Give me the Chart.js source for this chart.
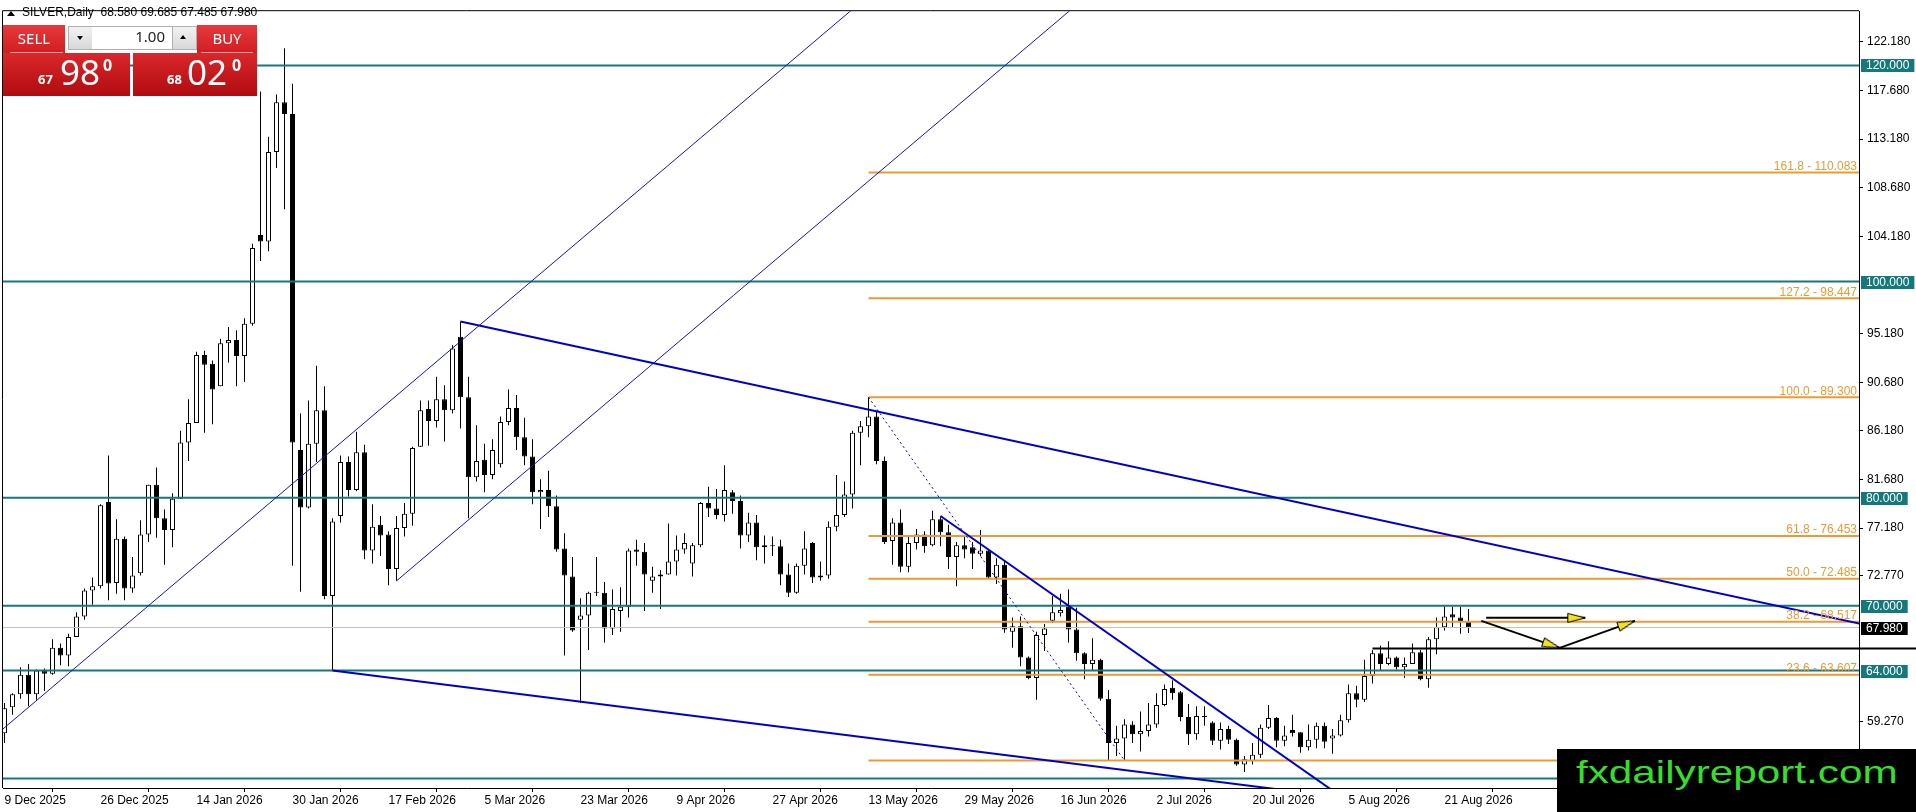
<!DOCTYPE html>
<html>
<head>
<meta charset="utf-8">
<title>SILVER, Daily</title>
<script src="https://cdn.jsdelivr.net/npm/chart.js@4.4.1/dist/chart.umd.min.js"></script>
<style>
html, body { margin:0; padding:0; background:#fff; overflow:hidden; }
#wrap { position:relative; width:1916px; height:812px; }
#chart { position:absolute; left:0; top:0; }
.abs { position:absolute; white-space:nowrap; }
#tri { left:7px; top:11px; width:0; height:0; border-left:4px solid transparent; border-right:4px solid transparent; border-bottom:5px solid #000; }
#title { left:22px; top:5px; font:12px "Liberation Sans", Arial, sans-serif; line-height:14px; color:#000; }
.red { background:linear-gradient(#e8393c, #d01d22); }
.big { background:linear-gradient(#da272b, #b00b10); }
.line { background:#f39b9b; height:1px; }
.wtxt { color:#fff; font-family:"Noto Sans", sans-serif; }
.spinbtn { background:linear-gradient(#f2f2f2, #d8d8d8); border:1px solid #b0b0b0; box-sizing:border-box; }
.tdn { width:0; height:0; border-left:3.5px solid transparent; border-right:3.5px solid transparent; border-top:4px solid #000; }
.tup { width:0; height:0; border-left:3.5px solid transparent; border-right:3.5px solid transparent; border-bottom:4px solid #000; }
#mark { left:1557px; top:749px; width:359px; height:63px; background:#000; overflow:hidden; }
#markTxt { left:19px; top:7px; font:32px "Liberation Sans", Arial, sans-serif; line-height:32px; color:#35df2b; transform:scaleX(1.32); transform-origin:0 0; }
</style>
</head>
<body>
<div id="wrap">
  <canvas id="chart" width="1916" height="812"></canvas>

  <div id="tri" class="abs"></div>
  <div id="title" class="abs">SILVER,Daily &nbsp;68.580 69.685 67.485 67.980</div>

  <div class="abs red" style="left:3px;top:25px;width:62px;height:28px;"></div>
  <div class="abs line" style="left:10px;top:52px;width:53px;"></div>
  <div class="abs wtxt" style="left:3px;top:31px;width:62px;text-align:center;font-size:15px;line-height:15px;">SELL</div>

  <div class="abs spinbtn" style="left:68px;top:26px;width:25px;height:24px;"></div>
  <div class="abs tdn" style="left:77px;top:36px;"></div>
  <div class="abs" style="left:92px;top:26px;width:80px;height:24px;background:#fff;border-top:1px solid #b0b0b0;border-bottom:1px solid #b0b0b0;box-sizing:border-box;"></div>
  <div class="abs" style="left:92px;top:29px;width:73px;text-align:right;font:15px 'Noto Sans', sans-serif;line-height:15px;color:#222;">1.00</div>
  <div class="abs spinbtn" style="left:172px;top:26px;width:25px;height:24px;"></div>
  <div class="abs tup" style="left:180px;top:35px;"></div>

  <div class="abs red" style="left:197px;top:25px;width:60px;height:28px;"></div>
  <div class="abs line" style="left:201px;top:52px;width:52px;"></div>
  <div class="abs wtxt" style="left:197px;top:31px;width:60px;text-align:center;font-size:15px;line-height:15px;">BUY</div>

  <div class="abs big" style="left:3px;top:53px;width:127px;height:43px;"></div>
  <div class="abs wtxt" style="left:38px;top:73px;font-size:13px;line-height:13px;font-weight:bold;">67</div>
  <div class="abs wtxt" style="left:60px;top:54px;font-size:35px;line-height:35px;">98</div>
  <div class="abs wtxt" style="left:103px;top:57px;font-size:16px;line-height:16px;font-weight:bold;">0</div>

  <div class="abs big" style="left:133px;top:53px;width:124px;height:43px;"></div>
  <div class="abs wtxt" style="left:167px;top:73px;font-size:13px;line-height:13px;font-weight:bold;">68</div>
  <div class="abs wtxt" style="left:187px;top:54px;font-size:35px;line-height:35px;">02</div>
  <div class="abs wtxt" style="left:232px;top:57px;font-size:16px;line-height:16px;font-weight:bold;">0</div>

  <div id="mark" class="abs"><div id="markTxt" class="abs">fxdailyreport.com</div></div>
</div>

<script>
// daily bars, 9 Dec 2025 .. 26 Aug 2026
const opens = [
  58.2, 60.6, 61.8, 63.6, 61.8, 64.0, 63.7, 66.1, 65.4, 67.1,
  69.0, 71.4, 71.8, 79.6, 72.1, 76.2, 71.6, 73.0, 76.6, 81.2,
  78.1, 77.0, 79.9, 85.1, 86.9, 93.2, 92.4, 90.3, 94.3, 94.6,
  93.1, 96.1, 104.3, 103.7, 112.0, 116.6, 115.5, 84.4, 79.1, 85.0,
  88.1, 70.9, 78.3, 83.3, 80.7, 84.2, 75.1, 77.5, 76.6, 73.4,
  77.2, 78.5, 84.7, 88.2, 87.1, 89.1, 88.1, 94.9, 89.3, 81.9,
  83.5, 82.1, 83.1, 87.0, 88.3, 85.6, 83.8, 80.5, 80.7, 79.2,
  75.3, 72.7, 68.7, 69.1, 71.2, 71.2, 67.9, 69.5, 69.9, 75.2,
  75.0, 72.3, 72.7, 72.9, 74.1, 75.2, 73.9, 75.6, 79.5, 79.0,
  78.4, 80.5, 79.7, 76.5, 77.7, 75.4, 75.6, 75.5, 72.9, 71.2,
  73.7, 75.8, 72.6, 72.8, 77.3, 78.4, 80.3, 86.0, 86.6, 87.5,
  83.4, 76.0, 77.7, 73.6, 75.8, 76.6, 75.6, 78.0, 76.8, 74.5,
  75.6, 75.4, 74.8, 75.1, 72.6, 73.8, 67.6, 68.1, 65.2, 63.3,
  67.3, 68.6, 69.3, 69.9, 67.8, 65.6, 64.6, 65.0, 61.4, 57.3,
  57.7, 59.0, 58.1, 58.4, 59.0, 60.8, 62.4, 62.0, 59.7, 58.1,
  59.8, 59.2, 57.5, 58.6, 57.6, 55.3, 55.6, 56.2, 58.7, 59.6,
  57.5, 58.5, 58.3, 56.9, 57.6, 58.9, 57.7, 58.0, 59.4, 61.9,
  61.3, 63.5, 65.6, 64.6, 65.2, 64.3, 64.6, 65.7, 63.2, 66.9,
  68.0, 69.2, 68.9, 68.58];

const highs = [
  61.0, 61.9, 64.3, 64.6, 64.1, 64.2, 66.9, 66.5, 67.4, 69.4,
  71.6, 72.6, 79.4, 83.9, 78.0, 76.4, 74.5, 77.9, 81.2, 82.8,
  78.9, 80.4, 86.2, 89.1, 93.5, 93.6, 92.7, 94.7, 95.8, 95.5,
  96.6, 103.5, 117.6, 113.4, 117.3, 121.6, 118.3, 87.8, 89.0, 92.2,
  90.3, 78.1, 83.9, 83.8, 86.1, 84.9, 79.4, 78.3, 76.9, 78.3,
  79.5, 84.7, 89.0, 89.0, 91.2, 90.4, 94.1, 96.3, 91.2, 86.7,
  85.0, 85.4, 87.5, 90.0, 89.5, 87.4, 85.4, 81.7, 82.5, 80.2,
  76.7, 74.5, 70.7, 71.3, 74.5, 72.2, 71.5, 71.7, 75.3, 76.1,
  75.8, 73.6, 73.3, 77.6, 76.5, 76.7, 75.8, 79.6, 81.0, 80.8,
  83.0, 80.7, 80.2, 78.6, 78.4, 76.5, 76.4, 76.1, 73.9, 73.9,
  76.9, 75.9, 74.1, 77.8, 82.1, 81.5, 86.2, 87.1, 89.3, 88.0,
  83.8, 78.1, 78.9, 76.4, 77.1, 76.9, 78.8, 78.3, 77.5, 75.9,
  76.4, 75.9, 77.0, 75.2, 74.4, 74.2, 68.9, 69.0, 65.3, 67.6,
  68.3, 70.9, 71.1, 71.5, 69.8, 65.7, 67.0, 65.1, 62.2, 58.9,
  59.5, 59.3, 60.2, 61.0, 61.9, 62.7, 63.1, 62.1, 60.9, 60.7,
  60.7, 59.3, 59.2, 58.9, 57.7, 56.1, 57.3, 59.0, 60.8, 59.7,
  58.9, 59.9, 58.3, 59.0, 59.2, 59.2, 58.6, 59.9, 62.7, 62.6,
  65.0, 65.9, 66.3, 66.7, 65.3, 65.2, 66.5, 65.9, 67.1, 68.9,
  69.95, 69.9, 69.9, 69.685];

const lows = [
  57.3, 59.9, 61.4, 60.7, 61.3, 62.1, 63.6, 64.5, 64.4, 67.1,
  68.7, 70.1, 71.6, 70.5, 71.1, 70.5, 71.2, 72.8, 75.9, 76.3,
  73.8, 75.4, 79.9, 83.4, 86.9, 86.0, 86.8, 90.3, 92.5, 90.3,
  90.7, 95.9, 101.9, 102.8, 110.5, 106.7, 73.7, 71.3, 79.0, 83.3,
  70.6, 64.0, 77.7, 80.1, 80.6, 74.3, 73.9, 74.6, 71.9, 72.3,
  76.4, 77.4, 84.7, 84.8, 86.5, 85.2, 87.8, 86.4, 78.1, 81.5,
  80.5, 81.7, 82.8, 86.7, 84.4, 83.0, 79.4, 77.1, 78.2, 75.0,
  65.4, 67.6, 61.0, 65.9, 70.9, 66.6, 67.3, 67.6, 68.9, 73.7,
  69.5, 71.2, 69.7, 72.9, 72.8, 74.8, 72.7, 75.4, 78.2, 78.0,
  77.8, 78.5, 75.3, 75.9, 74.2, 73.9, 74.6, 71.9, 70.8, 71.1,
  72.9, 72.1, 72.3, 72.5, 76.9, 78.2, 79.0, 83.0, 85.6, 83.1,
  75.7, 73.8, 73.1, 73.1, 75.2, 74.9, 75.5, 75.5, 73.4, 71.8,
  74.4, 73.4, 74.6, 72.5, 72.0, 67.5, 66.1, 64.4, 63.2, 61.3,
  65.8, 68.4, 69.0, 66.6, 64.9, 63.2, 64.0, 61.2, 55.7, 56.1,
  55.67, 57.3, 56.5, 57.9, 58.7, 60.7, 61.3, 59.3, 57.1, 57.6,
  58.9, 57.1, 56.7, 57.2, 55.2, 54.6, 55.3, 55.9, 58.6, 56.9,
  57.0, 57.9, 56.4, 56.6, 56.8, 56.8, 56.3, 57.9, 59.2, 60.6,
  61.1, 62.8, 64.0, 64.5, 64.1, 63.3, 64.6, 63.1, 62.4, 65.5,
  67.7, 68.0, 67.4, 67.485];

const closes = [
  60.5, 61.8, 63.6, 61.8, 64.0, 63.7, 66.1, 65.4, 67.1, 69.0,
  71.4, 71.8, 79.3, 72.05, 76.2, 71.6, 72.8, 76.6, 81.2, 78.1,
  77.0, 79.9, 85.1, 86.9, 93.2, 92.3, 90.0, 94.3, 94.6, 93.1,
  96.1, 103.1, 103.7, 112.0, 116.6, 115.5, 85.1, 79.1, 85.0, 88.1,
  70.9, 77.8, 83.3, 80.7, 84.2, 75.1, 77.3, 76.5, 73.4, 77.2,
  78.5, 84.6, 88.1, 87.1, 89.1, 88.1, 93.8, 89.3, 81.9, 83.4,
  82.1, 84.4, 87.0, 88.3, 85.6, 83.8, 80.5, 80.7, 79.2, 75.2,
  72.8, 67.7, 69.1, 71.2, 71.3, 67.9, 69.7, 69.9, 75.1, 75.0,
  72.9, 72.7, 72.9, 74.1, 75.2, 75.8, 75.6, 79.5, 79.0, 78.4,
  80.7, 79.7, 76.5, 77.7, 75.4, 75.6, 75.5, 72.9, 71.2, 73.7,
  75.3, 72.6, 72.8, 77.3, 78.4, 80.3, 86.0, 86.6, 87.5, 83.4,
  75.9, 77.7, 73.6, 75.8, 76.6, 75.5, 78.0, 76.8, 74.5, 75.6,
  75.2, 74.8, 75.1, 72.6, 73.8, 67.8, 68.1, 65.2, 63.3, 67.3,
  67.9, 69.4, 69.6, 67.8, 65.6, 64.6, 65.0, 61.4, 57.3, 57.7,
  59.0, 58.1, 58.4, 59.0, 60.8, 62.3, 61.9, 59.7, 58.1, 59.8,
  59.7, 57.5, 58.6, 57.6, 55.3, 55.8, 56.2, 58.7, 59.6, 57.5,
  58.0, 58.2, 56.9, 57.6, 58.9, 57.4, 58.0, 59.4, 61.9, 61.3,
  63.5, 65.6, 64.6, 65.2, 64.3, 64.6, 65.7, 63.2, 66.9, 68.0,
  69.0, 68.9, 68.58, 67.98];

// time axis: every 12th bar carries a date
const dateBars = [0, 12, 24, 36, 48, 60, 72, 84, 96, 108, 120, 132, 144, 156, 168, 180];
const dateLabels = ["9 Dec 2025", "26 Dec 2025", "14 Jan 2026", "30 Jan 2026", "17 Feb 2026",
  "5 Mar 2026", "23 Mar 2026", "9 Apr 2026", "27 Apr 2026", "13 May 2026", "29 May 2026",
  "16 Jun 2026", "2 Jul 2026", "20 Jul 2026", "5 Aug 2026", "21 Aug 2026"];

// price axis
const priceTicks = [122.18, 117.68, 113.18, 108.68, 104.18, 95.18, 90.68, 86.18, 81.68, 77.18, 72.77, 59.27];
const yMin = 53.13, yMax = 125.02;
const xMin = -0.1875, xMax = 231.8125;

// round number levels
const roundLevels = [120, 100, 80, 70, 64, 54];
const lastPrice = 67.98;

// fibo from the 13 May top to the June low
const fibNames = ["0.0", "23.6", "38.2", "50.0", "61.8", "100.0", "127.2", "161.8"];
const fibPrices = [55.67, 63.607, 68.517, 72.485, 76.453, 89.3, 98.447, 110.083];
const fibStartBar = 108;
const fibLeg = [[108, 89.3], [140, 55.67]];

// drawn lines: [bar, price]
const risingLow = [[-0.5, 58.4], [106, 125.2]];
const risingHigh = [[49, 72.3], [134, 125.6]];
const fallingTop = [[57, 96.3], [235, 67.85]];
const fallingBottom = [[41, 64.0], [170, 52.0]];
const shortDown = [[117, 78.3], [166, 52.9]];
const supportLine = [[171, 66.05], [239, 66.05]];

// arrows
const arrowFlat = [[185.2, 68.88], [197.6, 68.88]];
const arrowDown = [[184.6, 68.6], [194.4, 66.1]];
const arrowUp = [[194.4, 66.1], [203.8, 68.6]];

const TEAL = '#15797b';
const FIB = '#ee9a34';
const BLUE = '#0000cc';
const axisFont = { family: '"Liberation Sans", Arial, sans-serif', size: 12 };

// yellow arrow head, tip in the middle of the canvas
const arrowHead = document.createElement('canvas');
arrowHead.width = 38;
arrowHead.height = 12;
const ah = arrowHead.getContext('2d');
ah.fillStyle = '#f2e21c';
ah.strokeStyle = '#000';
ah.lineWidth = 1;
ah.beginPath();
ah.moveTo(1.5, 1.5);
ah.lineTo(19, 6);
ah.lineTo(1.5, 10.5);
ah.closePath();
ah.fill();
ah.stroke();

function lineSet(points, color, width, extra){
  return Object.assign({
    type: 'line',
    data: points.map(p => ({ x: p[0], y: p[1] })),
    borderColor: color,
    borderWidth: width,
    pointRadius: 0,
    tension: 0,
    fill: false,
    order: 1
  }, extra || {});
}

function arrowSet(points){
  return lineSet(points, '#000', 2, {
    order: 0,
    pointRadius: [0, 6],
    pointStyle: arrowHead,
    pointRotation: c => {
      const d = c.dataset.data, sx = c.chart.scales.x, sy = c.chart.scales.y;
      const dx = sx.getPixelForValue(d[1].x) - sx.getPixelForValue(d[0].x);
      const dy = sy.getPixelForValue(d[1].y) - sy.getPixelForValue(d[0].y);
      return Math.atan2(dy, dx) * 180 / Math.PI;
    }
  });
}

const datasets = [];

// candles: wick behind, body on top
datasets.push({
  type: 'bar',
  data: opens.map((o, i) => ({ x: i, y: [lows[i], highs[i]] })),
  backgroundColor: '#000',
  barThickness: 1,
  grouped: false,
  inflateAmount: 0,
  order: 11
});
datasets.push({
  type: 'bar',
  data: opens.map((o, i) => ({ x: i, y: [o, closes[i]] })),
  backgroundColor: opens.map((o, i) => closes[i] >= o ? '#fff' : '#000'),
  borderColor: '#000',
  borderWidth: 1,
  borderSkipped: false,
  barThickness: 5,
  grouped: false,
  inflateAmount: 0,
  order: 10
});

datasets.push(lineSet([[xMin, lastPrice], [xMax, lastPrice]], '#c0c0c0', 1, { order: 3 }));
roundLevels.forEach(v => datasets.push(lineSet([[xMin, v], [xMax, v]], TEAL, 2, { order: 2 })));
fibPrices.forEach(v => datasets.push(lineSet([[fibStartBar, v], [xMax, v]], FIB, 2, { order: 2 })));

datasets.push(lineSet(fibLeg, BLUE, 1, { borderDash: [2, 3] }));
datasets.push(lineSet(risingLow, '#1212c8', 1));
datasets.push(lineSet(risingHigh, '#1212c8', 1));
datasets.push(lineSet(fallingTop, BLUE, 2));
datasets.push(lineSet(fallingBottom, BLUE, 2));
datasets.push(lineSet(shortDown, BLUE, 2));
datasets.push(lineSet(supportLine, '#000', 2, { clip: false }));

datasets.push(arrowSet(arrowFlat));
datasets.push(arrowSet(arrowDown));
datasets.push(arrowSet(arrowUp));

// frame, fibo captions and price tags on the axis
const mtOverlay = {
  id: 'mtOverlay',
  afterDraw(chart){
    const ctx = chart.ctx;
    const a = chart.chartArea;
    const y = chart.scales.y;
    ctx.save();
    ctx.strokeStyle = '#000';
    ctx.lineWidth = 1;
    ctx.beginPath();
    ctx.moveTo(a.left - 0.5, a.bottom);
    ctx.lineTo(a.left - 0.5, a.top - 0.5);
    ctx.lineTo(a.right, a.top - 0.5);
    ctx.stroke();

    ctx.font = '12px "Liberation Sans", Arial, sans-serif';
    ctx.fillStyle = FIB;
    ctx.textAlign = 'right';
    ctx.textBaseline = 'alphabetic';
    fibPrices.forEach((p, i) => {
      ctx.fillText(fibNames[i] + ' - ' + p.toFixed(3), a.right - 2, y.getPixelForValue(p) - 2.5);
    });

    ctx.textAlign = 'left';
    ctx.textBaseline = 'middle';
    const tag = (v, bg) => {
      const t = v.toFixed(3);
      const w = ctx.measureText(t).width;
      const py = y.getPixelForValue(v);
      ctx.fillStyle = bg;
      ctx.fillRect(a.right + 2, Math.round(py) - 6, w + 10, 13);
      ctx.fillStyle = '#fff';
      ctx.fillText(t, a.right + 7, Math.round(py) + 0.5);
    };
    roundLevels.forEach(v => tag(v, TEAL));
    tag(lastPrice, '#000');
    ctx.restore();
  }
};

new Chart(document.getElementById('chart'), {
  type: 'line',
  data: { datasets: datasets },
  plugins: [mtOverlay],
  options: {
    responsive: false,
    animation: false,
    devicePixelRatio: 1,
    events: [],
    layout: { padding: { left: 3, top: 3, right: 0, bottom: 0 }, autoPadding: false },
    plugins: { legend: { display: false }, tooltip: { enabled: false } },
    scales: {
      x: {
        type: 'linear',
        min: xMin,
        max: xMax,
        offset: false,
        afterBuildTicks: s => { s.ticks = dateBars.map(v => ({ value: v })); },
        afterFit: s => { s.height = 24; },
        ticks: {
          callback: (v, i) => dateLabels[i],
          align: 'start',
          autoSkip: false,
          maxRotation: 0,
          padding: 1,
          color: '#000',
          font: axisFont
        },
        grid: { drawOnChartArea: false, tickLength: 4, color: '#000' },
        border: { display: true, color: '#000' }
      },
      y: {
        type: 'linear',
        position: 'right',
        min: yMin,
        max: yMax,
        afterBuildTicks: s => { s.ticks = priceTicks.map(v => ({ value: v })); },
        afterFit: s => { s.width = 57; },
        ticks: {
          callback: v => v.toFixed(3),
          autoSkip: false,
          padding: 4,
          color: '#000',
          font: axisFont
        },
        grid: { drawOnChartArea: false, tickLength: 4, color: '#000' },
        border: { display: true, color: '#000' }
      }
    }
  }
});
</script>
</body>
</html>
